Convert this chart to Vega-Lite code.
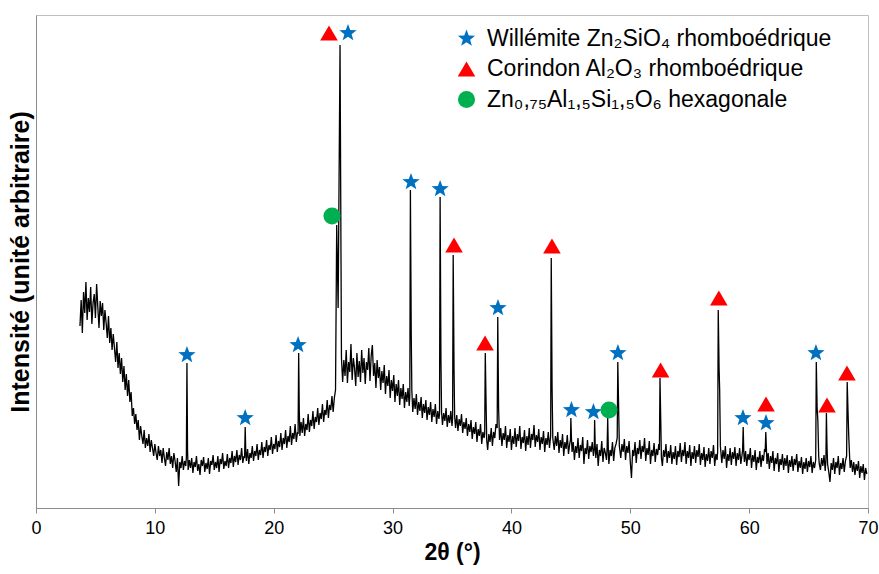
{
  "$schema": "https://vega.github.io/schema/vega-lite/v6.json",
  "width": 832,
  "height": 493,
  "autosize": {"type": "none"},
  "padding": {"left": 36, "top": 15, "right": 11, "bottom": 66},
  "background": "white",
  "config": {
    "view": {"stroke": "#bfbfbf", "strokeWidth": 1},
    "font": "Liberation Sans",
    "legend": {
      "title": null, "orient": "none", "legendX": 419, "legendY": 12,
      "labelFont": "Liberation Sans", "labelFontSize": 23, "labelColor": "black", "labelLimit": 600,
      "symbolStrokeWidth": 0, "rowPadding": 6.5, "labelOffset": 9, "padding": 0
    }
  },
  "datasets": {
    "spectrum": [
      {"t":3.7,"i":182},{"t":3.8,"i":208},{"t":3.9,"i":175},{"t":4.0,"i":216},{"t":4.1,"i":195},{"t":4.2,"i":226},{"t":4.3,"i":188},{"t":4.4,"i":210},{"t":4.5,"i":196},{"t":4.6,"i":221},{"t":4.7,"i":184},{"t":4.8,"i":205},{"t":4.9,"i":214},{"t":5.0,"i":190},{"t":5.1,"i":224},{"t":5.2,"i":201},{"t":5.3,"i":180},{"t":5.4,"i":207},
      {"t":5.5,"i":192},{"t":5.6,"i":205},{"t":5.7,"i":178},{"t":5.8,"i":198},{"t":5.9,"i":185},{"t":6.0,"i":170},{"t":6.1,"i":192},{"t":6.2,"i":165},{"t":6.3,"i":180},{"t":6.4,"i":158},{"t":6.5,"i":174},{"t":6.6,"i":160},{"t":6.7,"i":146},{"t":6.8,"i":166},{"t":6.9,"i":140},{"t":7.0,"i":155},{"t":7.1,"i":134},{"t":7.2,"i":150},{"t":7.3,"i":126},{"t":7.4,"i":142},{"t":7.5,"i":118},{"t":7.6,"i":134},{"t":7.7,"i":112},{"t":7.8,"i":128},{"t":7.9,"i":106},{"t":8.0,"i":116},{"t":8.1,"i":92},{"t":8.2,"i":100},{"t":8.3,"i":84},{"t":8.4,"i":94},{"t":8.5,"i":78},{"t":8.6,"i":88},{"t":8.7,"i":68},{"t":8.8,"i":82},{"t":8.9,"i":72},{"t":9.0,"i":64},{"t":9.1,"i":78},{"t":9.2,"i":60},{"t":9.3,"i":70},{"t":9.4,"i":62},{"t":9.5,"i":74},{"t":9.6,"i":56},{"t":9.7,"i":68},{"t":9.8,"i":60},{"t":9.9,"i":52},
      {"t":10.0,"i":64},{"t":10.1,"i":55},{"t":10.2,"i":48},{"t":10.3,"i":62},{"t":10.4,"i":52},{"t":10.5,"i":58},{"t":10.6,"i":45},{"t":10.7,"i":60},{"t":10.8,"i":50},{"t":10.9,"i":42},{"t":11.0,"i":56},{"t":11.1,"i":48},{"t":11.2,"i":60},{"t":11.3,"i":44},{"t":11.4,"i":52},{"t":11.5,"i":40},{"t":11.6,"i":55},{"t":11.7,"i":47},{"t":11.8,"i":36},{"t":11.9,"i":50},{"t":12.0,"i":22},{"t":12.1,"i":46},{"t":12.2,"i":40},{"t":12.3,"i":52},{"t":12.4,"i":38},{"t":12.5,"i":47},{"t":12.6,"i":42},{"t":12.65,"i":50},{"t":12.7,"i":145},{"t":12.75,"i":58},{"t":12.8,"i":38},{"t":12.9,"i":48},{"t":13.0,"i":40},{"t":13.1,"i":50},{"t":13.2,"i":35},{"t":13.3,"i":46},{"t":13.4,"i":41},{"t":13.5,"i":52},{"t":13.6,"i":37},{"t":13.7,"i":44},{"t":13.8,"i":33},{"t":13.9,"i":48},{"t":14.0,"i":42},{"t":14.1,"i":51},{"t":14.2,"i":36},{"t":14.3,"i":45},{"t":14.4,"i":39},{"t":14.5,"i":50},{"t":14.6,"i":34},{"t":14.7,"i":47},{"t":14.8,"i":43},{"t":14.9,"i":53},
      {"t":15.0,"i":38},{"t":15.1,"i":46},{"t":15.2,"i":40},{"t":15.3,"i":52},{"t":15.4,"i":36},{"t":15.5,"i":49},{"t":15.6,"i":44},{"t":15.7,"i":55},{"t":15.8,"i":39},{"t":15.9,"i":47},{"t":16.0,"i":42},{"t":16.1,"i":54},{"t":16.2,"i":40},{"t":16.3,"i":50},{"t":16.4,"i":45},{"t":16.5,"i":57},{"t":16.6,"i":41},{"t":16.7,"i":52},{"t":16.8,"i":46},{"t":16.9,"i":58},{"t":17.0,"i":43},{"t":17.1,"i":53},{"t":17.2,"i":48},{"t":17.3,"i":60},{"t":17.4,"i":45},{"t":17.5,"i":52},{"t":17.55,"i":50},{"t":17.6,"i":81},{"t":17.65,"i":56},{"t":17.7,"i":47},{"t":17.8,"i":59},{"t":17.9,"i":44},{"t":18.0,"i":55},{"t":18.1,"i":50},{"t":18.2,"i":62},{"t":18.3,"i":47},{"t":18.4,"i":57},{"t":18.5,"i":52},{"t":18.6,"i":64},{"t":18.7,"i":48},{"t":18.8,"i":58},{"t":18.9,"i":53},{"t":19.0,"i":66},{"t":19.1,"i":50},{"t":19.2,"i":61},{"t":19.3,"i":56},{"t":19.4,"i":68},{"t":19.5,"i":52},{"t":19.6,"i":63},{"t":19.7,"i":58},{"t":19.8,"i":71},{"t":19.9,"i":54},
      {"t":20.0,"i":64},{"t":20.1,"i":59},{"t":20.2,"i":73},{"t":20.3,"i":56},{"t":20.4,"i":67},{"t":20.5,"i":61},{"t":20.6,"i":75},{"t":20.7,"i":58},{"t":20.8,"i":70},{"t":20.9,"i":64},{"t":21.0,"i":78},{"t":21.1,"i":60},{"t":21.2,"i":72},{"t":21.3,"i":66},{"t":21.4,"i":82},{"t":21.5,"i":63},{"t":21.6,"i":75},{"t":21.7,"i":69},{"t":21.8,"i":84},{"t":21.9,"i":66},{"t":22.0,"i":76},{"t":22.05,"i":74},{"t":22.1,"i":155},{"t":22.15,"i":98},{"t":22.2,"i":72},{"t":22.3,"i":86},{"t":22.4,"i":75},{"t":22.5,"i":90},{"t":22.6,"i":72},{"t":22.7,"i":84},{"t":22.8,"i":78},{"t":22.9,"i":94},{"t":23.0,"i":76},{"t":23.1,"i":88},{"t":23.2,"i":82},{"t":23.3,"i":97},{"t":23.4,"i":79},{"t":23.5,"i":91},{"t":23.6,"i":86},{"t":23.7,"i":100},{"t":23.8,"i":83},{"t":23.9,"i":95},{"t":24.0,"i":89},{"t":24.1,"i":104},{"t":24.2,"i":86},{"t":24.3,"i":98},{"t":24.4,"i":93},{"t":24.5,"i":108},{"t":24.6,"i":90},{"t":24.7,"i":103},{"t":24.8,"i":98},{"t":24.9,"i":112},
      {"t":25.0,"i":96},{"t":25.1,"i":110},{"t":25.2,"i":118},{"t":25.3,"i":283},{"t":25.42,"i":200},{"t":25.58,"i":463},{"t":25.7,"i":150},{"t":25.8,"i":126},{"t":25.9,"i":148},{"t":26.0,"i":132},{"t":26.1,"i":158},{"t":26.2,"i":125},{"t":26.3,"i":146},{"t":26.4,"i":136},{"t":26.5,"i":164},{"t":26.6,"i":128},{"t":26.7,"i":150},{"t":26.8,"i":140},{"t":26.9,"i":122},{"t":27.0,"i":155},{"t":27.1,"i":131},{"t":27.2,"i":147},{"t":27.3,"i":126},{"t":27.4,"i":158},{"t":27.5,"i":135},{"t":27.6,"i":150},{"t":27.7,"i":124},{"t":27.8,"i":146},{"t":27.9,"i":138},{"t":28.0,"i":160},{"t":28.1,"i":127},{"t":28.2,"i":152},{"t":28.3,"i":163},{"t":28.4,"i":132},{"t":28.5,"i":145},{"t":28.6,"i":120},{"t":28.7,"i":148},{"t":28.8,"i":130},{"t":28.9,"i":141},{"t":29.0,"i":118},{"t":29.1,"i":137},{"t":29.2,"i":125},{"t":29.3,"i":143},{"t":29.4,"i":114},{"t":29.5,"i":132},{"t":29.6,"i":122},{"t":29.7,"i":138},{"t":29.8,"i":110},{"t":29.9,"i":128},
      {"t":30.0,"i":117},{"t":30.1,"i":133},{"t":30.2,"i":106},{"t":30.3,"i":124},{"t":30.4,"i":112},{"t":30.5,"i":128},{"t":30.6,"i":103},{"t":30.7,"i":120},{"t":30.8,"i":109},{"t":30.9,"i":124},{"t":31.0,"i":100},{"t":31.1,"i":116},{"t":31.2,"i":106},{"t":31.3,"i":120},{"t":31.4,"i":102},{"t":31.45,"i":112},{"t":31.5,"i":318},{"t":31.57,"i":175},{"t":31.62,"i":118},{"t":31.7,"i":96},{"t":31.8,"i":110},{"t":31.9,"i":99},{"t":32.0,"i":114},{"t":32.1,"i":93},{"t":32.2,"i":106},{"t":32.3,"i":97},{"t":32.4,"i":111},{"t":32.5,"i":90},{"t":32.6,"i":104},{"t":32.7,"i":95},{"t":32.8,"i":108},{"t":32.9,"i":88},{"t":33.0,"i":101},{"t":33.1,"i":93},{"t":33.2,"i":106},{"t":33.3,"i":86},{"t":33.4,"i":99},{"t":33.5,"i":91},{"t":33.6,"i":104},{"t":33.7,"i":84},{"t":33.8,"i":97},{"t":33.9,"i":89},{"t":33.95,"i":94},{"t":34.0,"i":311},{"t":34.07,"i":148},{"t":34.12,"i":96},{"t":34.2,"i":83},{"t":34.3,"i":95},{"t":34.4,"i":87},{"t":34.5,"i":100},{"t":34.6,"i":81},{"t":34.7,"i":93},{"t":34.8,"i":85},{"t":34.9,"i":97},
      {"t":35.0,"i":82},{"t":35.05,"i":90},{"t":35.1,"i":253},{"t":35.17,"i":140},{"t":35.22,"i":92},{"t":35.3,"i":80},{"t":35.4,"i":93},{"t":35.5,"i":77},{"t":35.6,"i":89},{"t":35.7,"i":82},{"t":35.8,"i":94},{"t":35.9,"i":75},{"t":36.0,"i":86},{"t":36.1,"i":79},{"t":36.2,"i":90},{"t":36.3,"i":72},{"t":36.4,"i":84},{"t":36.5,"i":76},{"t":36.6,"i":88},{"t":36.7,"i":69},{"t":36.8,"i":81},{"t":36.9,"i":74},{"t":37.0,"i":86},{"t":37.1,"i":66},{"t":37.2,"i":79},{"t":37.3,"i":72},{"t":37.4,"i":84},{"t":37.5,"i":64},{"t":37.6,"i":76},{"t":37.7,"i":70},{"t":37.75,"i":74},{"t":37.8,"i":155},{"t":37.86,"i":110},{"t":37.92,"i":68},{"t":38.0,"i":58},{"t":38.1,"i":74},{"t":38.2,"i":66},{"t":38.3,"i":80},{"t":38.4,"i":62},{"t":38.5,"i":76},{"t":38.6,"i":70},{"t":38.7,"i":84},{"t":38.8,"i":80},{"t":38.85,"i":191},{"t":38.92,"i":100},{"t":39.0,"i":68},{"t":39.1,"i":80},{"t":39.2,"i":62},{"t":39.3,"i":75},{"t":39.4,"i":68},{"t":39.5,"i":82},{"t":39.6,"i":60},{"t":39.7,"i":73},{"t":39.8,"i":66},{"t":39.9,"i":79},
      {"t":40.0,"i":58},{"t":40.1,"i":72},{"t":40.2,"i":64},{"t":40.3,"i":80},{"t":40.4,"i":61},{"t":40.5,"i":74},{"t":40.6,"i":67},{"t":40.7,"i":82},{"t":40.8,"i":59},{"t":40.9,"i":71},{"t":41.0,"i":65},{"t":41.1,"i":78},{"t":41.2,"i":57},{"t":41.3,"i":72},{"t":41.4,"i":63},{"t":41.5,"i":80},{"t":41.6,"i":60},{"t":41.7,"i":74},{"t":41.8,"i":68},{"t":41.9,"i":83},{"t":42.0,"i":61},{"t":42.1,"i":73},{"t":42.2,"i":66},{"t":42.3,"i":79},{"t":42.4,"i":58},{"t":42.5,"i":71},{"t":42.6,"i":64},{"t":42.7,"i":77},{"t":42.8,"i":56},{"t":42.9,"i":70},{"t":43.0,"i":63},{"t":43.1,"i":76},{"t":43.2,"i":60},{"t":43.3,"i":72},{"t":43.35,"i":250},{"t":43.42,"i":120},{"t":43.48,"i":70},{"t":43.6,"i":58},{"t":43.7,"i":72},{"t":43.8,"i":62},{"t":43.9,"i":76},{"t":44.0,"i":55},{"t":44.1,"i":68},{"t":44.2,"i":60},{"t":44.3,"i":74},{"t":44.4,"i":52},{"t":44.5,"i":66},{"t":44.6,"i":59},{"t":44.7,"i":73},{"t":44.8,"i":54},{"t":44.9,"i":64},
      {"t":44.97,"i":68},{"t":45.0,"i":90},{"t":45.05,"i":70},{"t":45.1,"i":56},{"t":45.2,"i":66},{"t":45.3,"i":48},{"t":45.4,"i":62},{"t":45.5,"i":55},{"t":45.6,"i":70},{"t":45.7,"i":50},{"t":45.8,"i":63},{"t":45.9,"i":57},{"t":46.0,"i":71},{"t":46.1,"i":44},{"t":46.2,"i":60},{"t":46.3,"i":54},{"t":46.4,"i":68},{"t":46.5,"i":49},{"t":46.6,"i":62},{"t":46.7,"i":56},{"t":46.8,"i":66},{"t":46.9,"i":52},{"t":46.97,"i":60},{"t":47.0,"i":88},{"t":47.05,"i":62},{"t":47.1,"i":50},{"t":47.2,"i":64},{"t":47.3,"i":42},{"t":47.4,"i":58},{"t":47.5,"i":52},{"t":47.6,"i":67},{"t":47.7,"i":46},{"t":47.8,"i":60},{"t":47.9,"i":55},{"t":48.0,"i":48},{"t":48.05,"i":60},{"t":48.1,"i":90},{"t":48.16,"i":54},{"t":48.2,"i":44},{"t":48.3,"i":58},{"t":48.4,"i":52},{"t":48.5,"i":66},{"t":48.6,"i":47},{"t":48.7,"i":60},{"t":48.8,"i":64},{"t":48.9,"i":70},{"t":48.95,"i":146},{"t":49.02,"i":100},{"t":49.08,"i":62},{"t":49.2,"i":50},{"t":49.3,"i":64},{"t":49.4,"i":56},{"t":49.5,"i":69},{"t":49.6,"i":48},{"t":49.7,"i":62},{"t":49.8,"i":55},{"t":49.9,"i":67},
      {"t":50.0,"i":46},{"t":50.1,"i":30},{"t":50.2,"i":58},{"t":50.3,"i":52},{"t":50.4,"i":66},{"t":50.5,"i":45},{"t":50.6,"i":60},{"t":50.7,"i":54},{"t":50.8,"i":68},{"t":50.9,"i":49},{"t":51.0,"i":62},{"t":51.1,"i":56},{"t":51.2,"i":70},{"t":51.3,"i":47},{"t":51.4,"i":60},{"t":51.5,"i":53},{"t":51.6,"i":67},{"t":51.7,"i":44},{"t":51.8,"i":58},{"t":51.9,"i":52},{"t":52.0,"i":65},{"t":52.1,"i":46},{"t":52.2,"i":59},{"t":52.3,"i":53},{"t":52.4,"i":64},{"t":52.45,"i":58},{"t":52.5,"i":130},{"t":52.56,"i":90},{"t":52.62,"i":50},{"t":52.7,"i":42},{"t":52.8,"i":58},{"t":52.9,"i":51},{"t":53.0,"i":64},{"t":53.1,"i":45},{"t":53.2,"i":57},{"t":53.3,"i":50},{"t":53.4,"i":63},{"t":53.5,"i":44},{"t":53.6,"i":56},{"t":53.7,"i":49},{"t":53.8,"i":62},{"t":53.9,"i":43},{"t":54.0,"i":57},{"t":54.1,"i":51},{"t":54.2,"i":65},{"t":54.3,"i":46},{"t":54.4,"i":58},{"t":54.5,"i":52},{"t":54.6,"i":66},{"t":54.7,"i":44},{"t":54.8,"i":57},{"t":54.9,"i":50},
      {"t":55.0,"i":63},{"t":55.1,"i":42},{"t":55.2,"i":56},{"t":55.3,"i":49},{"t":55.4,"i":62},{"t":55.5,"i":45},{"t":55.6,"i":58},{"t":55.7,"i":51},{"t":55.8,"i":64},{"t":55.9,"i":43},{"t":56.0,"i":55},{"t":56.1,"i":48},{"t":56.2,"i":61},{"t":56.3,"i":41},{"t":56.4,"i":54},{"t":56.5,"i":47},{"t":56.6,"i":60},{"t":56.7,"i":44},{"t":56.8,"i":57},{"t":56.9,"i":50},{"t":57.0,"i":63},{"t":57.1,"i":42},{"t":57.2,"i":54},{"t":57.3,"i":48},{"t":57.35,"i":56},{"t":57.4,"i":198},{"t":57.47,"i":140},{"t":57.52,"i":118},{"t":57.58,"i":62},{"t":57.7,"i":45},{"t":57.8,"i":58},{"t":57.9,"i":49},{"t":58.0,"i":62},{"t":58.1,"i":40},{"t":58.2,"i":54},{"t":58.3,"i":47},{"t":58.4,"i":60},{"t":58.5,"i":43},{"t":58.6,"i":56},{"t":58.7,"i":49},{"t":58.8,"i":61},{"t":58.9,"i":42},{"t":59.0,"i":55},{"t":59.1,"i":48},{"t":59.2,"i":60},{"t":59.3,"i":44},{"t":59.4,"i":53},{"t":59.45,"i":58},{"t":59.5,"i":81},{"t":59.55,"i":56},{"t":59.6,"i":46},{"t":59.7,"i":57},{"t":59.8,"i":42},{"t":59.9,"i":54},
      {"t":60.0,"i":48},{"t":60.1,"i":60},{"t":60.2,"i":40},{"t":60.3,"i":53},{"t":60.4,"i":46},{"t":60.5,"i":58},{"t":60.6,"i":38},{"t":60.7,"i":51},{"t":60.8,"i":45},{"t":60.9,"i":57},{"t":61.0,"i":41},{"t":61.1,"i":53},{"t":61.2,"i":47},{"t":61.3,"i":59},{"t":61.35,"i":56},{"t":61.4,"i":76},{"t":61.45,"i":60},{"t":61.5,"i":44},{"t":61.6,"i":55},{"t":61.7,"i":39},{"t":61.8,"i":52},{"t":61.9,"i":45},{"t":62.0,"i":57},{"t":62.1,"i":37},{"t":62.2,"i":50},{"t":62.3,"i":44},{"t":62.4,"i":55},{"t":62.5,"i":36},{"t":62.6,"i":49},{"t":62.7,"i":43},{"t":62.8,"i":54},{"t":62.9,"i":38},{"t":63.0,"i":50},{"t":63.1,"i":42},{"t":63.2,"i":53},{"t":63.3,"i":35},{"t":63.4,"i":48},{"t":63.5,"i":41},{"t":63.6,"i":52},{"t":63.7,"i":37},{"t":63.8,"i":49},{"t":63.9,"i":43},{"t":64.0,"i":54},{"t":64.1,"i":36},{"t":64.2,"i":47},{"t":64.3,"i":40},{"t":64.4,"i":51},{"t":64.5,"i":34},{"t":64.6,"i":46},{"t":64.7,"i":39},{"t":64.8,"i":50},{"t":64.9,"i":36},
      {"t":65.0,"i":47},{"t":65.1,"i":41},{"t":65.2,"i":52},{"t":65.3,"i":35},{"t":65.4,"i":46},{"t":65.5,"i":40},{"t":65.6,"i":48},{"t":65.65,"i":146},{"t":65.72,"i":100},{"t":65.78,"i":88},{"t":65.85,"i":52},{"t":65.9,"i":44},{"t":66.0,"i":38},{"t":66.1,"i":50},{"t":66.2,"i":42},{"t":66.3,"i":53},{"t":66.4,"i":37},{"t":66.46,"i":48},{"t":66.5,"i":95},{"t":66.55,"i":62},{"t":66.6,"i":44},{"t":66.7,"i":36},{"t":66.8,"i":26},{"t":66.9,"i":45},{"t":67.0,"i":38},{"t":67.1,"i":50},{"t":67.2,"i":34},{"t":67.3,"i":46},{"t":67.4,"i":40},{"t":67.5,"i":52},{"t":67.6,"i":33},{"t":67.7,"i":45},{"t":67.8,"i":39},{"t":67.9,"i":50},{"t":68.0,"i":36},{"t":68.1,"i":47},{"t":68.2,"i":52},{"t":68.25,"i":126},{"t":68.32,"i":96},{"t":68.38,"i":72},{"t":68.45,"i":52},{"t":68.5,"i":40},{"t":68.6,"i":48},{"t":68.7,"i":36},{"t":68.8,"i":46},{"t":68.9,"i":33},{"t":69.0,"i":44},{"t":69.1,"i":37},{"t":69.2,"i":47},{"t":69.3,"i":30},{"t":69.4,"i":42},{"t":69.5,"i":35},{"t":69.6,"i":44},{"t":69.7,"i":28},{"t":69.8,"i":40},{"t":69.9,"i":34}
    ],
    "markers": [
      {"phase":"Willémite Zn₂SiO₄ rhomboédrique","t":12.7,"i":153},
      {"phase":"Willémite Zn₂SiO₄ rhomboédrique","t":17.6,"i":90},
      {"phase":"Willémite Zn₂SiO₄ rhomboédrique","t":22.05,"i":163},
      {"phase":"Willémite Zn₂SiO₄ rhomboédrique","t":26.25,"i":475},
      {"phase":"Willémite Zn₂SiO₄ rhomboédrique","t":31.55,"i":326},
      {"phase":"Willémite Zn₂SiO₄ rhomboédrique","t":34.0,"i":319},
      {"phase":"Willémite Zn₂SiO₄ rhomboédrique","t":38.87,"i":200},
      {"phase":"Willémite Zn₂SiO₄ rhomboédrique","t":45.05,"i":98},
      {"phase":"Willémite Zn₂SiO₄ rhomboédrique","t":46.9,"i":96},
      {"phase":"Willémite Zn₂SiO₄ rhomboédrique","t":48.96,"i":155},
      {"phase":"Willémite Zn₂SiO₄ rhomboédrique","t":59.48,"i":90},
      {"phase":"Willémite Zn₂SiO₄ rhomboédrique","t":61.42,"i":85},
      {"phase":"Willémite Zn₂SiO₄ rhomboédrique","t":65.62,"i":155},
      {"phase":"Corindon Al₂O₃ rhomboédrique","t":24.65,"i":475},
      {"phase":"Corindon Al₂O₃ rhomboédrique","t":35.17,"i":263},
      {"phase":"Corindon Al₂O₃ rhomboédrique","t":37.78,"i":165},
      {"phase":"Corindon Al₂O₃ rhomboédrique","t":43.41,"i":262},
      {"phase":"Corindon Al₂O₃ rhomboédrique","t":52.55,"i":138},
      {"phase":"Corindon Al₂O₃ rhomboédrique","t":57.45,"i":210},
      {"phase":"Corindon Al₂O₃ rhomboédrique","t":61.42,"i":104},
      {"phase":"Corindon Al₂O₃ rhomboédrique","t":66.55,"i":103},
      {"phase":"Corindon Al₂O₃ rhomboédrique","t":68.23,"i":135},
      {"phase":"Zn₀,₇₅Al₁,₅Si₁,₅O₆ hexagonale","t":24.9,"i":292},
      {"phase":"Zn₀,₇₅Al₁,₅Si₁,₅O₆ hexagonale","t":48.21,"i":98}
    ]
  },
  "layer": [
    {
      "data": {"name": "spectrum"},
      "mark": {"type": "line", "color": "black", "strokeWidth": 1.3},
      "encoding": {
        "x": {
          "field": "t", "type": "quantitative",
          "scale": {"domain": [0, 70], "nice": false, "zero": false},
          "axis": {
            "title": "2θ (°)",
            "titleFont": "Liberation Sans", "titleFontSize": 23, "titleFontWeight": "bold", "titleColor": "black", "titlePadding": 4,
            "values": [0, 10, 20, 30, 40, 50, 60, 70],
            "labelFont": "Liberation Sans", "labelFontSize": 18, "labelColor": "black", "labelPadding": 6,
            "tickSize": 5, "tickColor": "#8c8c8c", "domainColor": "#8c8c8c", "grid": false, "labelFlush": false
          }
        },
        "y": {
          "field": "i", "type": "quantitative",
          "scale": {"domain": [0, 493], "nice": false},
          "axis": {
            "title": "Intensité (unité arbitraire)",
            "titleFont": "Liberation Sans", "titleFontSize": 25, "titleFontWeight": "bold", "titleColor": "black", "titlePadding": 3,
            "labels": false, "ticks": false, "grid": false, "domainColor": "#8c8c8c"
          }
        }
      }
    },
    {
      "data": {"name": "markers"},
      "mark": {"type": "point", "filled": true, "opacity": 1, "strokeWidth": 0},
      "encoding": {
        "x": {"field": "t", "type": "quantitative"},
        "y": {"field": "i", "type": "quantitative"},
        "color": {
          "field": "phase", "type": "nominal",
          "scale": {
            "domain": ["Willémite Zn₂SiO₄ rhomboédrique", "Corindon Al₂O₃ rhomboédrique", "Zn₀,₇₅Al₁,₅Si₁,₅O₆ hexagonale"],
            "range": ["#0070C0", "#FF0000", "#00B050"]
          }
        },
        "shape": {
          "field": "phase", "type": "nominal",
          "scale": {
            "domain": ["Willémite Zn₂SiO₄ rhomboédrique", "Corindon Al₂O₃ rhomboédrique", "Zn₀,₇₅Al₁,₅Si₁,₅O₆ hexagonale"],
            "range": ["M0,-1L0.247,-0.34L0.951,-0.309L0.399,0.13L0.588,0.809L0,0.42L-0.588,0.809L-0.399,0.13L-0.951,-0.309L-0.247,-0.34Z", "triangle-up", "circle"]
          }
        },
        "size": {
          "field": "phase", "type": "nominal",
          "scale": {
            "domain": ["Willémite Zn₂SiO₄ rhomboédrique", "Corindon Al₂O₃ rhomboédrique", "Zn₀,₇₅Al₁,₅Si₁,₅O₆ hexagonale"],
            "range": [330, 290, 160]
          }
        }
      }
    }
  ]
}
